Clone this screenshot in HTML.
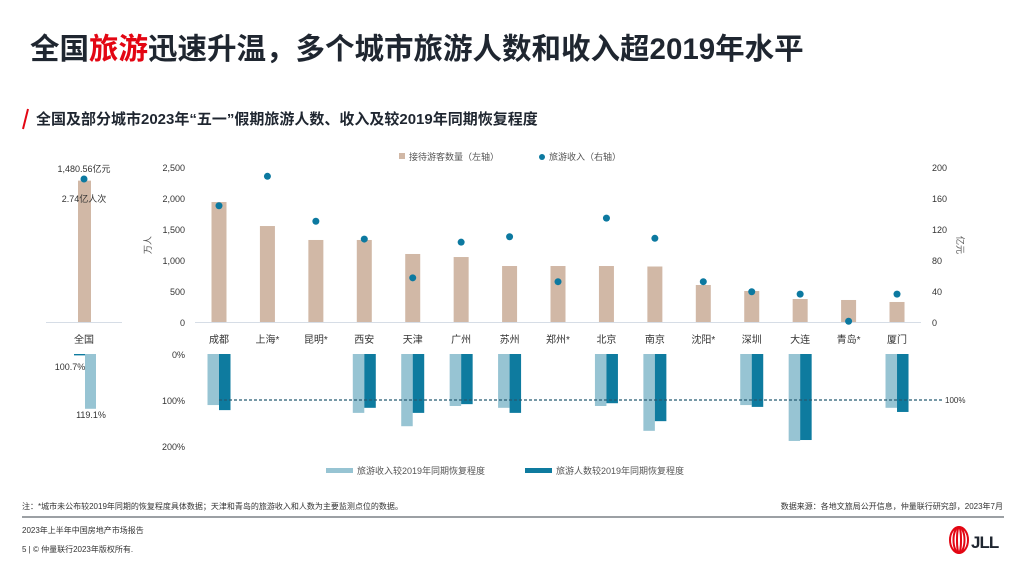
<!DOCTYPE html>
<html><head><meta charset="utf-8">
<style>
body{margin:0;width:1024px;height:576px;background:#fff;overflow:hidden;font-family:"Liberation Sans","Noto Sans CJK SC",sans-serif;}
svg{position:absolute;left:0;top:0}
</style></head>
<body>
<svg id="c" width="1024" height="576" xmlns="http://www.w3.org/2000/svg" font-family="Liberation Sans, Noto Sans CJK SC, sans-serif">
<text x="30" y="59" font-size="29.5" font-weight="bold" fill="#1f2630">全国<tspan fill="#e30613">旅游</tspan>迅速升温，多个城市旅游人数和收入超2019年水平</text>
<line x1="23" y1="129" x2="28" y2="109" stroke="#e30613" stroke-width="2"/>
<text x="36" y="124" font-size="15" font-weight="bold" fill="#1f2630">全国及部分城市2023年“五一”假期旅游人数、收入及较2019年同期恢复程度</text>
<g id="chart"></g>
<line x1="22" y1="517" x2="1004" y2="517" stroke="#3a4048" stroke-width="1"/>
<text x="22" y="509" font-size="8" fill="#333">注：*城市未公布较2019年同期的恢复程度具体数据；天津和青岛的旅游收入和人数为主要监测点位的数据。</text>
<text x="1003" y="509" font-size="8" fill="#333" text-anchor="end">数据来源：各地文旅局公开信息，仲量联行研究部，2023年7月</text>
<text x="22" y="533" font-size="8" fill="#333">2023年上半年中国房地产市场报告</text>
<text x="22" y="552" font-size="8" fill="#333">5 | © 仲量联行2023年版权所有.</text>
<g>
<ellipse cx="959" cy="540" rx="9" ry="13" fill="none" stroke="#e30613" stroke-width="2"/>
<ellipse cx="959" cy="540" rx="5.5" ry="13" fill="none" stroke="#e30613" stroke-width="2"/>
<ellipse cx="959" cy="540" rx="2" ry="13" fill="none" stroke="#e30613" stroke-width="2"/>
<text x="971" y="548" font-size="17" font-weight="bold" fill="#1f2630" letter-spacing="-1">JLL</text>
</g>
</svg>
<script>
const categories=["成都","上海*","昆明*","西安","天津","广州","苏州","郑州*","北京","南京","沈阳*","深圳","大连","青岛*","厦门"];
const visitors=[1935,1548,1323,1323,1097,1048,903,903,903,895,597,500,371,355,323];
const income=[150,188,130,107,57,103,110,52,134,108,52,39,36,1,36];
const incomeRecovery=[111,null,null,128,157,113,117,null,113,167,null,111,189,null,117];
const visitorRecovery=[122,null,null,117,128,109,128,null,107,146,null,115,187,null,126];
const leftTicks=[0,500,1000,1500,2000,2500];
const rightTicks=[0,40,80,120,160,200];
const pctTicks=[0,100,200];
const nationalVisitors=2280;
const nationalIncome=2300;
const nationalIncomeRec=119.1;
const nationalVisitorRec=3;

const NS="http://www.w3.org/2000/svg";
const g=document.getElementById('chart');
function el(t,a,txt){const e=document.createElementNS(NS,t);for(const k in a)e.setAttribute(k,a[k]);if(txt!=null)e.textContent=txt;g.appendChild(e);return e;}
const yL=v=>322-v/2500*155;
const yR=v=>322-v/200*155;
const yP=v=>354+v*0.46;
const xC=i=>219+i*48.43;
const TAN="#d1b8a6",DOT="#0c79a0",LIGHT="#97c4d3",DARK="#0e7b9f";

for(const t of leftTicks){const e=el('text',{x:185,y:yL(t)+4,'font-size':9,fill:'#333','text-anchor':'end'},t.toLocaleString('en-US'));

}
for(const t of rightTicks){const e=el('text',{x:932,y:yR(t)+4,'font-size':9,fill:'#333'},t);

}
for(const t of pctTicks){const e=el('text',{x:185,y:yP(t)+4,'font-size':9,fill:'#333','text-anchor':'end'},t+'%');

}
let e=el('text',{x:0,y:0,'font-size':9,fill:'#555',transform:'translate(151,245) rotate(-90)','text-anchor':'middle'},'万人');


e=el('text',{x:0,y:0,'font-size':9,fill:'#555',transform:'translate(957,245) rotate(90)','text-anchor':'middle'},'亿元');


e=el('line',{x1:195,y1:322.5,x2:921,y2:322.5,stroke:'#d6dde6','stroke-width':1});



categories.forEach((c,i)=>{
 const x=xC(i);
 let b=el('rect',{x:x-7.5,y:yL(visitors[i]),width:15,height:322-yL(visitors[i]),fill:TAN});
 
 
 let d=el('circle',{cx:x,cy:yR(income[i]),r:3.5,fill:DOT});
 
 
 let l=el('text',{x:x,y:343,'font-size':10,fill:'#333','text-anchor':'middle'},c);
 
 
 if(incomeRecovery[i]!=null){
  let r=el('rect',{x:x-11.5,y:354,width:11.5,height:yP(incomeRecovery[i])-354,fill:LIGHT});
  
  
 }
 if(visitorRecovery[i]!=null){
  let r=el('rect',{x:x,y:354,width:11.5,height:yP(visitorRecovery[i])-354,fill:DARK});
  
  
 }
});
e=el('line',{x1:219,y1:yP(100),x2:944,y2:yP(100),stroke:'#245a72','stroke-width':1.3,'stroke-dasharray':'3,2'});


e=el('text',{x:945,y:yP(100)+3,'font-size':8,fill:'#333'},'100%');



e=el('line',{x1:46,y1:322.5,x2:122,y2:322.5,stroke:'#d6dde6','stroke-width':1});


e=el('rect',{x:78,y:yL(nationalVisitors),width:13,height:322-yL(nationalVisitors),fill:TAN});


e=el('circle',{cx:84,cy:179,r:3.5,fill:DOT});


e=el('text',{x:84,y:172,'font-size':9,fill:'#333','text-anchor':'middle'},'1,480.56亿元');


e=el('text',{x:84,y:202,'font-size':9,fill:'#333','text-anchor':'middle'},'2.74亿人次');


e=el('text',{x:84,y:343,'font-size':10,fill:'#333','text-anchor':'middle'},'全国');


e=el('rect',{x:74,y:354,width:11,height:nationalVisitorRec*0.46,fill:DARK});


e=el('rect',{x:85,y:354,width:11,height:yP(nationalIncomeRec)-354,fill:LIGHT});


e=el('text',{x:70,y:370,'font-size':9,fill:'#333','text-anchor':'middle'},'100.7%');


e=el('text',{x:91,y:418,'font-size':9,fill:'#333','text-anchor':'middle'},'119.1%');



e=el('rect',{x:399,y:153,width:6,height:6,fill:TAN});


e=el('text',{x:409,y:160,'font-size':9,fill:'#555'},'接待游客数量（左轴）');


e=el('circle',{cx:542,cy:157,r:3,fill:DOT});


e=el('text',{x:549,y:160,'font-size':9,fill:'#555'},'旅游收入（右轴）');


e=el('rect',{x:326,y:468,width:27,height:5,fill:LIGHT});


e=el('text',{x:357,y:474,'font-size':9,fill:'#555'},'旅游收入较2019年同期恢复程度');


e=el('rect',{x:525,y:468,width:27,height:5,fill:DARK});


e=el('text',{x:556,y:474,'font-size':9,fill:'#555'},'旅游人数较2019年同期恢复程度');


</script>
</body></html>
